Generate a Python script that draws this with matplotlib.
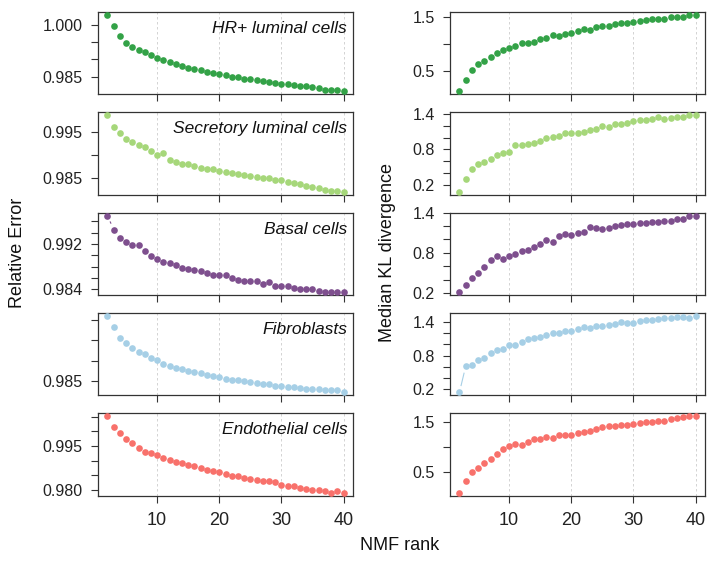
import numpy as np
import matplotlib
matplotlib.use("Agg")
import matplotlib.pyplot as plt

plt.rcParams['font.family'] = ['Liberation Sans', 'DejaVu Sans']

ranks = np.arange(2, 41)

cell_types = ["HR+ luminal cells", "Secretory luminal cells", "Basal cells",
              "Fibroblasts", "Endothelial cells"]
colors = ["#33a247", "#a6d77a", "#7e4f8e", "#a6cfe6", "#f8716b"]

# relative error per rank
err_hr = [1.00289, 0.99952, 0.99663, 0.99481, 0.99356, 0.99269, 0.99202, 0.99115,
          0.99038, 0.98981, 0.98923, 0.98856, 0.98798, 0.98740, 0.98731, 0.98692,
          0.98644, 0.98596, 0.98567, 0.98538, 0.98500, 0.98490, 0.98442, 0.98433,
          0.98413, 0.98375, 0.98356, 0.98317, 0.98298, 0.98298, 0.98269, 0.98231,
          0.98212, 0.98192, 0.98163, 0.98115, 0.98106, 0.98106, 0.98077]
err_sec = [0.99871, 0.99611, 0.99470, 0.99359, 0.99285, 0.99226, 0.99167, 0.99093,
           0.99004, 0.99033, 0.98892, 0.98833, 0.98803, 0.98803, 0.98759, 0.98722,
           0.98700, 0.98700, 0.98648, 0.98626, 0.98611, 0.98581, 0.98559, 0.98529,
           0.98507, 0.98492, 0.98485, 0.98455, 0.98440, 0.98396, 0.98374, 0.98366,
           0.98307, 0.98300, 0.98277, 0.98240, 0.98218, 0.98211, 0.98196]
err_bas = [0.99700, 0.99453, 0.99300, 0.99229, 0.99176, 0.99176, 0.99082, 0.98994,
           0.98935, 0.98888, 0.98865, 0.98829, 0.98782, 0.98759, 0.98735, 0.98729,
           0.98694, 0.98647, 0.98659, 0.98659, 0.98600, 0.98571, 0.98541, 0.98541,
           0.98541, 0.98500, 0.98529, 0.98453, 0.98465, 0.98453, 0.98424, 0.98412,
           0.98400, 0.98412, 0.98376, 0.98353, 0.98353, 0.98353, 0.98353]
err_fib = [1.00099, 0.99838, 0.99560, 0.99438, 0.99308, 0.99202, 0.99161, 0.99071,
           0.99014, 0.98916, 0.98859, 0.98818, 0.98802, 0.98753, 0.98720, 0.98696,
           0.98655, 0.98614, 0.98590, 0.98549, 0.98524, 0.98524, 0.98492, 0.98484,
           0.98451, 0.98427, 0.98427, 0.98386, 0.98369, 0.98361, 0.98345, 0.98321,
           0.98304, 0.98304, 0.98296, 0.98288, 0.98272, 0.98272, 0.98223]
err_endo = [1.00516, 1.00166, 0.99940, 0.99737, 0.99590, 0.99432, 0.99308, 0.99252,
            0.99184, 0.99105, 0.99037, 0.98958, 0.98913, 0.98857, 0.98823, 0.98755,
            0.98698, 0.98665, 0.98631, 0.98563, 0.98484, 0.98484, 0.98405, 0.98371,
            0.98337, 0.98315, 0.98315, 0.98281, 0.98157, 0.98145, 0.98123, 0.98066,
            0.98021, 0.97998, 0.97998, 0.97965, 0.97908, 0.97965, 0.97908]

# median KL divergence per rank
kl_hr = [0.113, 0.331, 0.519, 0.619, 0.688, 0.750, 0.838, 0.888, 0.925, 0.963,
         1.013, 1.019, 1.038, 1.094, 1.113, 1.169, 1.150, 1.188, 1.200, 1.244,
         1.275, 1.263, 1.325, 1.331, 1.338, 1.375, 1.388, 1.388, 1.406, 1.438,
         1.456, 1.469, 1.475, 1.475, 1.500, 1.513, 1.513, 1.544, 1.550]
kl_sec = [0.081, 0.291, 0.472, 0.545, 0.591, 0.636, 0.704, 0.732, 0.749, 0.874,
          0.874, 0.896, 0.902, 0.942, 0.987, 1.015, 1.021, 1.072, 1.083, 1.072,
          1.100, 1.128, 1.151, 1.196, 1.179, 1.225, 1.236, 1.253, 1.287, 1.298,
          1.298, 1.309, 1.349, 1.315, 1.338, 1.355, 1.349, 1.383, 1.383]
kl_bas = [0.215, 0.319, 0.429, 0.504, 0.583, 0.698, 0.748, 0.713, 0.758, 0.787,
          0.822, 0.842, 0.892, 0.932, 0.987, 0.967, 1.046, 1.076, 1.061, 1.096,
          1.116, 1.181, 1.171, 1.161, 1.171, 1.196, 1.211, 1.236, 1.236, 1.246,
          1.251, 1.266, 1.266, 1.271, 1.271, 1.310, 1.305, 1.350, 1.355]
kl_fib = [0.140, 0.606, 0.624, 0.725, 0.755, 0.845, 0.893, 0.928, 0.994, 0.994,
          1.036, 1.107, 1.113, 1.143, 1.167, 1.203, 1.215, 1.245, 1.251, 1.275,
          1.310, 1.299, 1.340, 1.340, 1.352, 1.370, 1.406, 1.388, 1.388, 1.424,
          1.442, 1.442, 1.466, 1.484, 1.484, 1.490, 1.490, 1.472, 1.513]
kl_endo = [0.083, 0.308, 0.493, 0.586, 0.685, 0.765, 0.851, 0.964, 1.023, 1.056,
           1.043, 1.089, 1.149, 1.162, 1.195, 1.169, 1.228, 1.242, 1.242, 1.275,
           1.301, 1.315, 1.354, 1.394, 1.407, 1.421, 1.434, 1.440, 1.460, 1.474,
           1.487, 1.500, 1.507, 1.520, 1.560, 1.579, 1.586, 1.606, 1.606]

errors = [err_hr, err_sec, err_bas, err_fib, err_endo]
kls = [kl_hr, kl_sec, kl_bas, kl_fib, kl_endo]

# y ticks and which of them carry labels
err_ticks = [[0.985, 0.990, 0.995, 1.000],
             [0.985, 0.990, 0.995],
             [0.984, 0.986, 0.988, 0.990, 0.992, 0.994, 0.996],
             [0.985, 0.990, 0.995, 1.000],
             [0.980, 0.985, 0.990, 0.995, 1.000, 1.005]]
err_labels = [["0.985", "", "", "1.000"],
              ["0.985", "", "0.995"],
              ["0.984", "", "", "", "0.992", "", ""],
              ["0.985", "", "", ""],
              ["0.980", "", "", "0.995", "", ""]]
kl_ticks = [[0.5, 1.0, 1.5],
            [0.2, 0.4, 0.6, 0.8, 1.0, 1.2, 1.4],
            [0.2, 0.4, 0.6, 0.8, 1.0, 1.2, 1.4],
            [0.2, 0.4, 0.6, 0.8, 1.0, 1.2, 1.4],
            [0.5, 1.0, 1.5]]
kl_labels = [["0.5", "", "1.5"],
             ["0.2", "", "", "0.8", "", "", "1.4"],
             ["0.2", "", "", "0.8", "", "", "1.4"],
             ["0.2", "", "", "0.8", "", "", "1.4"],
             ["0.5", "", "1.5"]]

W, H = 707, 561
fig = plt.figure(figsize=(W / 100, H / 100), dpi=100)

col_left = [98, 450]
panel_w = 255
panel_h = 82.5
GAP = 7.0  # pixels left blank around each point, like R's type="b"


def style_axis(ax, last_row):
    ax.set_xlim(0.48, 41.52)
    ax.set_xticks([10, 20, 30, 40])
    ax.grid(axis='x', color='#cccccc', linestyle=(0, (3, 3)), linewidth=0.6)
    ax.set_axisbelow(True)
    ax.tick_params(direction='out', length=5, width=0.8, color='#333333',
                   labelsize=11.5, labelcolor='#222222')
    ax.tick_params(axis='y', pad=6)
    ax.tick_params(axis='x', pad=7, labelsize=13)
    if not last_row:
        ax.set_xticklabels([])
    for s in ax.spines.values():
        s.set_color('#333333')
        s.set_linewidth(0.9)


def gapped_lines(ax, x, y, color):
    # connect points with segments that stop short of each marker
    pts = ax.transData.transform(np.column_stack([x, y]))
    inv = ax.transData.inverted()
    for p0, p1 in zip(pts[:-1], pts[1:]):
        d = p1 - p0
        L = np.hypot(*d)
        if L <= 2 * GAP:
            continue
        u = d / L
        a = inv.transform(p0 + u * GAP)
        b = inv.transform(p1 - u * GAP)
        ax.plot([a[0], b[0]], [a[1], b[1]], '-', color=color,
                linewidth=0.8, zorder=2)


for i in range(5):
    top = 11.7 + 100.4 * i
    bottom = 1 - (top + panel_h) / H
    for j in range(2):
        ax = fig.add_axes([col_left[j] / W, bottom, panel_w / W, panel_h / H])
        vals = errors[i] if j == 0 else kls[i]
        style_axis(ax, i == 4)
        lo, hi = min(vals), max(vals)
        pad = (hi - lo) * 0.04
        ax.set_ylim(lo - pad, hi + pad)
        ax.plot(ranks, vals, 'o', color=colors[i], markersize=4.8,
                markeredgewidth=0, zorder=3, clip_on=False)
        gapped_lines(ax, ranks, vals, colors[i])
        if j == 0:
            ax.set_yticks(err_ticks[i])
            ax.set_yticklabels(err_labels[i])
            ax.text(0.977, 0.80, cell_types[i], transform=ax.transAxes,
                    ha='right', va='center', fontsize=12.5, style='italic',
                    color='#111111')
        else:
            ax.set_yticks(kl_ticks[i])
            ax.set_yticklabels(kl_labels[i])
        ax.set_ylim(lo - pad, hi + pad)

mid_y = 1 - 253 / H
fig.text(18 / W, mid_y, "Relative Error", rotation=90, ha='center',
         va='center', fontsize=13, color='#111111')
fig.text(388 / W, mid_y, "Median KL divergence", rotation=90, ha='center',
         va='center', fontsize=13, color='#111111')
fig.text(400 / W, 1 - 545 / H, "NMF rank", ha='center', va='center',
         fontsize=13, color='#111111')

plt.savefig('out.png', dpi=100)
